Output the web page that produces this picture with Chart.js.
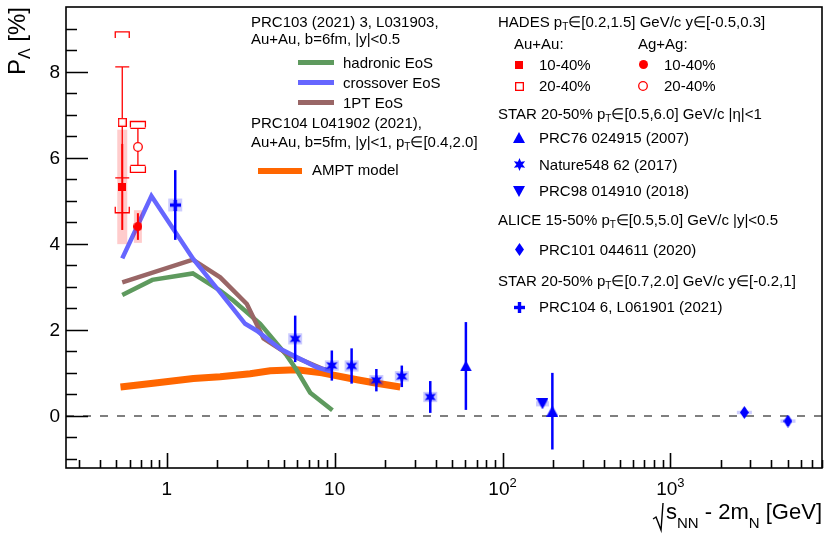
<!DOCTYPE html>
<html>
<head>
<meta charset="utf-8">
<script src="https://cdn.jsdelivr.net/npm/chart.js@4.4.1/dist/chart.umd.min.js"></script>
<style>
  html, body { margin: 0; padding: 0; background: #fff; }
  canvas { display: block; }
</style>
</head>
<body>
<canvas id="polar-chart" width="830" height="538"></canvas>
<script>
// x: sqrt(sNN) - 2mN [GeV], y: P_Lambda [%]

// HADES
const auAu1040X = [0.543], auAu1040Y = [5.32], auAu1040Stat = [1.0], auAu1040Sys = [1.33];
const auAu2040X = [0.543], auAu2040Y = [6.82], auAu2040Stat = [1.29], auAu2040Sys = [2.1];
const agAg1040X = [0.673], agAg1040Y = [4.40], agAg1040Stat = [0.31], agAg1040Sys = [0.38];
const agAg2040X = [0.673], agAg2040Y = [6.25], agAg2040Stat = [0.43], agAg2040Sys = [0.59];

// STAR 20-50%
const prc76X = [60.5, 198.1], prc76Y = [1.16, 0.11], prc76Stat = [1.02, 0.89];
const natureX = [5.82, 9.62, 12.62, 17.72, 25.12, 37.12];
const natureY = [1.79, 1.17, 1.16, 0.83, 0.92, 0.44];
const natureStat = [0.54, 0.35, 0.41, 0.26, 0.25, 0.37];
const natureSys = [0.13, 0.12, 0.13, 0.12, 0.12, 0.12];
const prc98X = [173], prc98Y = [0.28], prc98Stat = [0.04], prc98Sys = [0.06];

// ALICE
const aliceX = [2758, 5018], aliceY = [0.08, -0.12], aliceStat = [0.10, 0.11], aliceSys = [0.04, 0.04];

// STAR 3 GeV
const star3X = [1.123], star3Y = [4.90], star3Stat = [0.81], star3Sys = [0.15];

// models
const hadronicX = [0.543, 0.82, 1.43, 2.08, 2.49, 3.6, 5.19, 5.95, 7.15, 9.7];
const hadronicY = [2.81, 3.16, 3.31, 2.91, 2.68, 2.14, 1.40, 1.06, 0.54, 0.13];
const crossoverX = [0.543, 0.81, 1.44, 2.08, 2.93, 3.44, 4.73, 7.83, 9.62];
const crossoverY = [3.66, 5.11, 3.64, 2.87, 2.14, 1.98, 1.56, 1.13, 1.03];
const onePtX = [0.543, 1.43, 2.08, 3.0, 3.77, 5.19, 8.4, 9.62];
const onePtY = [3.10, 3.63, 3.22, 2.60, 1.80, 1.45, 1.10, 1.04];
const amptX = [0.53, 0.83, 1.44, 2.08, 3.14, 4.13, 5.95, 8.4, 13.6, 17.8, 24.6];
const amptY = [0.67, 0.76, 0.87, 0.91, 0.98, 1.05, 1.07, 1.00, 0.84, 0.76, 0.67];

// axis
const xRange = [0.251, 8000];
const yRange = [-1.21, 9.5];
const yTickLabels = [0, 2, 4, 6, 8];
const xTickLabels = [[1, '1', ''], [10, '10', ''], [100, '10', '2'], [1000, '10', '3']];

const FONT = '"Liberation Sans", Arial, sans-serif';
const RED = '#ff0000', BLUE = '#0000ff';

function pts(xs, ys) {
  return xs.map((v, i) => ({ x: v, y: ys[i] }));
}

function marker(kind, color, w, h) {
  const c = document.createElement('canvas');
  c.width = w; c.height = h;
  const g = c.getContext('2d');
  const cx = w / 2, cy = h / 2;
  g.fillStyle = color; g.strokeStyle = color;
  g.beginPath();
  if (kind === 'square') {
    g.fillRect(0, 0, w, h);
  } else if (kind === 'openSquare') {
    g.fillStyle = '#fff'; g.fillRect(0, 0, w, h);
    g.lineWidth = 1.3; g.strokeRect(0.65, 0.65, w - 1.3, h - 1.3);
  } else if (kind === 'circle') {
    g.arc(cx, cy, w / 2, 0, Math.PI * 2); g.fill();
  } else if (kind === 'openCircle') {
    g.arc(cx, cy, w / 2 - 0.7, 0, Math.PI * 2);
    g.fillStyle = '#fff'; g.fill(); g.lineWidth = 1.3; g.stroke();
  } else if (kind === 'triUp') {
    g.moveTo(cx, 0); g.lineTo(w, h); g.lineTo(0, h); g.closePath(); g.fill();
  } else if (kind === 'triDown') {
    g.moveTo(0, 0); g.lineTo(w, 0); g.lineTo(cx, h); g.closePath(); g.fill();
  } else if (kind === 'diamond') {
    g.moveTo(cx, 0); g.lineTo(w, cy); g.lineTo(cx, h); g.lineTo(0, cy); g.closePath(); g.fill();
  } else if (kind === 'plus') {
    g.fillRect(cx - 1.7, 0, 3.4, h); g.fillRect(0, cy - 1.7, w, 3.4);
  } else if (kind === 'star') {
    const n = 6, ro = w / 2, ri = w / 4.2;
    for (let k = 0; k < n * 2; k++) {
      const r = k % 2 ? ri : ro;
      const a = -Math.PI / 2 + k * Math.PI / n;
      const px = cx + r * Math.cos(a), py = cy + r * Math.sin(a);
      k ? g.lineTo(px, py) : g.moveTo(px, py);
    }
    g.closePath(); g.fill();
  }
  return c;
}

const mk = {
  auAu1040: marker('square', RED, 8, 8),
  auAu2040: marker('openSquare', RED, 9, 9),
  agAg1040: marker('circle', RED, 9, 9),
  agAg2040: marker('openCircle', RED, 10, 10),
  prc76: marker('triUp', BLUE, 12, 11),
  nature: marker('star', BLUE, 13, 13),
  prc98: marker('triDown', BLUE, 12, 11),
  alice: marker('diamond', BLUE, 9, 13),
  star3: marker('plus', BLUE, 11, 11)
};

function lineSet(label, xs, ys, color, width, order) {
  return {
    type: 'scatter', label: label, data: pts(xs, ys), showLine: true,
    borderColor: color, borderWidth: width, pointRadius: 0, fill: false,
    tension: 0, order: order, borderJoinStyle: 'miter'
  };
}

function pointSet(label, xs, ys, style, order, err) {
  return Object.assign({
    type: 'scatter', label: label, data: pts(xs, ys),
    pointStyle: style, pointRadius: 6, order: order
  }, err);
}

// rich text: parts = [[text, 'n'|'sub'|'sup'], ...]
function partFont(size, kind) {
  return (kind === 'n' ? size : Math.round(size * 0.68)) + 'px ' + FONT;
}
function richWidth(ctx, parts, size) {
  let w = 0;
  parts.forEach(p => { ctx.font = partFont(size, p[1]); w += ctx.measureText(p[0]).width; });
  return w;
}
function richText(ctx, parts, x, y, size, align, subDy) {
  let cx = x;
  if (align === 'right') cx -= richWidth(ctx, parts, size);
  if (align === 'center') cx -= richWidth(ctx, parts, size) / 2;
  ctx.textAlign = 'left'; ctx.textBaseline = 'alphabetic';
  parts.forEach(p => {
    ctx.font = partFont(size, p[1]);
    let dy = 0;
    if (p[1] === 'sub') dy = size * (subDy || 0.22);
    if (p[1] === 'sup') dy = -size * 0.42;
    ctx.fillText(p[0], cx, y + dy);
    cx += ctx.measureText(p[0]).width;
  });
  return cx;
}

const errorBars = {
  id: 'errorBars',
  beforeDatasetDraw(chart, args) {
    const ds = chart.data.datasets[args.index];
    if (!ds.stat) return;
    const { ctx } = chart;
    const xs = chart.scales.x, ys = chart.scales.y;
    ctx.save();
    ds.data.forEach((p, i) => {
      const px = xs.getPixelForValue(p.x);
      if (ds.sys) {
        const t = ys.getPixelForValue(p.y + ds.sys[i]);
        const b = ys.getPixelForValue(p.y - ds.sys[i]);
        if (ds.sysMode === 'box') {
          ctx.fillStyle = ds.boxColor;
          ctx.fillRect(px - ds.boxW / 2, t, ds.boxW, b - t);
        } else {
          ctx.strokeStyle = ds.barColor; ctx.lineWidth = 1.3;
          const hw = ds.boxW / 2, leg = 6;
          ctx.beginPath();
          ctx.moveTo(px - hw, t + leg); ctx.lineTo(px - hw, t); ctx.lineTo(px + hw, t); ctx.lineTo(px + hw, t + leg);
          ctx.moveTo(px - hw, b - leg); ctx.lineTo(px - hw, b); ctx.lineTo(px + hw, b); ctx.lineTo(px + hw, b - leg);
          ctx.stroke();
        }
      }
      const t = ys.getPixelForValue(p.y + ds.stat[i]);
      const b = ys.getPixelForValue(p.y - ds.stat[i]);
      ctx.strokeStyle = ds.barColor; ctx.lineWidth = ds.barW;
      ctx.beginPath();
      ctx.moveTo(px, t); ctx.lineTo(px, b);
      if (ds.cap) {
        ctx.moveTo(px - ds.cap, t); ctx.lineTo(px + ds.cap, t);
        ctx.moveTo(px - ds.cap, b); ctx.lineTo(px + ds.cap, b);
      }
      ctx.stroke();
    });
    ctx.restore();
  }
};

const rootFrame = {
  id: 'rootFrame',
  afterDraw(chart) {
    const { ctx, chartArea: a } = chart;
    const xs = chart.scales.x, ys = chart.scales.y;
    ctx.save();
    ctx.strokeStyle = '#000'; ctx.fillStyle = '#000'; ctx.lineWidth = 1.6;
    ctx.strokeRect(a.left, a.top, a.right - a.left, a.bottom - a.top);

    // y ticks
    ctx.beginPath();
    for (let v = -1; v <= 9.01; v += 0.5) {
      const py = Math.round(ys.getPixelForValue(v)) + 0.5;
      const len = (Math.abs(v % 2) < 1e-6) ? 22 : 11;
      ctx.moveTo(a.left, py); ctx.lineTo(a.left + len, py);
    }
    // x ticks
    [0.1, 1, 10, 100, 1000].forEach(d => {
      for (let m = 1; m <= 9; m++) {
        const v = m * d;
        if (v < xRange[0] || v > xRange[1]) continue;
        const px = Math.round(xs.getPixelForValue(v)) + 0.5;
        const len = m === 1 ? 15 : 8;
        ctx.moveTo(px, a.bottom); ctx.lineTo(px, a.bottom - len);
      }
    });
    ctx.stroke();

    // tick labels
    ctx.font = '19px ' + FONT; ctx.textAlign = 'right'; ctx.textBaseline = 'middle';
    yTickLabels.forEach(v => ctx.fillText(String(v), 60, ys.getPixelForValue(v) + 1));
    xTickLabels.forEach(t => {
      const parts = t[2] ? [[t[1], 'n'], [t[2], 'sup']] : [[t[1], 'n']];
      richText(ctx, parts, xs.getPixelForValue(t[0]), 495, 19, 'center');
    });

    // y title
    ctx.save();
    ctx.translate(25, 7); ctx.rotate(-Math.PI / 2);
    const yt = [['P', 'n'], ['\u039B', 'sub'], [' [%]', 'n']];
    richText(ctx, yt, 0, 0, 24, 'right');
    ctx.restore();

    // x title with radical sign
    const xt = [['s', 'n'], ['NN', 'sub'], [' - 2m', 'n'], ['N', 'sub'], [' [GeV]', 'n']];
    const w = richWidth(ctx, xt, 22);
    const x0 = 822 - w;
    richText(ctx, xt, x0, 519, 22, 'left', 0.42);
    ctx.lineWidth = 1.4;
    ctx.beginPath();
    ctx.moveTo(x0 - 13, 519); ctx.lineTo(x0 - 10, 517); ctx.lineTo(x0 - 5, 530); ctx.lineTo(x0 - 3, 503);
    ctx.stroke();

    // left legend (models)
    const L = 15;
    ctx.fillStyle = '#000';
    richText(ctx, [['PRC103 (2021) 3, L031903,', 'n']], 251, 27, L);
    richText(ctx, [['Au+Au, b=6fm, |y|<0.5', 'n']], 251, 44, L);
    [['hadronic EoS', '#5e9a5e', 68], ['crossover EoS', '#6666ff', 88], ['1PT EoS', '#996666', 108]].forEach(e => {
      ctx.strokeStyle = e[1]; ctx.lineWidth = 5;
      ctx.beginPath(); ctx.moveTo(298, e[2] - 5.5); ctx.lineTo(334, e[2] - 5.5); ctx.stroke();
      richText(ctx, [[e[0], 'n']], 343, e[2], L);
    });
    richText(ctx, [['PRC104 L041902 (2021),', 'n']], 251, 128, L);
    richText(ctx, [['Au+Au, b=5fm, |y|<1, p', 'n'], ['T', 'sub'], ['\u2208[0.4,2.0]', 'n']], 251, 147, L);
    ctx.strokeStyle = '#ff6600'; ctx.lineWidth = 6;
    ctx.beginPath(); ctx.moveTo(258, 171); ctx.lineTo(302, 171); ctx.stroke();
    richText(ctx, [['AMPT model', 'n']], 312, 175, L);

    // right legend (data)
    const lx = 498, mx = 519, tx = 539;
    richText(ctx, [['HADES p', 'n'], ['T', 'sub'], ['\u2208[0.2,1.5] GeV/c y\u2208[-0.5,0.3]', 'n']], lx, 27, L);
    richText(ctx, [['Au+Au:', 'n']], 514, 49, L);
    richText(ctx, [['Ag+Ag:', 'n']], 638, 49, L);
    const drawMk = (c, x, y) => ctx.drawImage(c, Math.round(x - c.width / 2), Math.round(y - c.height / 2));
    drawMk(mk.auAu1040, mx, 64.5); richText(ctx, [['10-40%', 'n']], tx, 69.5, L);
    drawMk(mk.auAu2040, mx, 86); richText(ctx, [['20-40%', 'n']], tx, 91, L);
    drawMk(mk.agAg1040, 643, 64.5); richText(ctx, [['10-40%', 'n']], 664, 69.5, L);
    drawMk(mk.agAg2040, 643, 86); richText(ctx, [['20-40%', 'n']], 664, 91, L);
    richText(ctx, [['STAR 20-50% p', 'n'], ['T', 'sub'], ['\u2208[0.5,6.0] GeV/c |\u03B7|<1', 'n']], lx, 118.5, L);
    drawMk(mk.prc76, mx, 137.5); richText(ctx, [['PRC76 024915 (2007)', 'n']], tx, 143, L);
    drawMk(mk.nature, mx, 164); richText(ctx, [['Nature548 62 (2017)', 'n']], tx, 169.5, L);
    drawMk(mk.prc98, mx, 191); richText(ctx, [['PRC98 014910 (2018)', 'n']], tx, 196, L);
    richText(ctx, [['ALICE 15-50% p', 'n'], ['T', 'sub'], ['\u2208[0.5,5.0] GeV/c |y|<0.5', 'n']], lx, 225, L);
    drawMk(mk.alice, mx, 249.5); richText(ctx, [['PRC101 044611 (2020)', 'n']], tx, 254.5, L);
    richText(ctx, [['STAR 20-50% p', 'n'], ['T', 'sub'], ['\u2208[0.7,2.0] GeV/c y\u2208[-0.2,1]', 'n']], lx, 286, L);
    drawMk(mk.star3, mx, 307); richText(ctx, [['PRC104 6, L061901 (2021)', 'n']], tx, 312, L);
    ctx.restore();
  }
};

const PINK = 'rgba(255,0,0,0.2)', LBLUE = 'rgba(0,0,255,0.2)';

new Chart(document.getElementById('polar-chart'), {
  type: 'scatter',
  data: {
    datasets: [
      pointSet('HADES Au+Au 10-40%', auAu1040X, auAu1040Y, mk.auAu1040, 4,
        { stat: auAu1040Stat, sys: auAu1040Sys, sysMode: 'box', boxW: 10, boxColor: PINK, barColor: RED, barW: 2 }),
      pointSet('HADES Au+Au 20-40%', auAu2040X, auAu2040Y, mk.auAu2040, 3,
        { stat: auAu2040Stat, sys: auAu2040Sys, sysMode: 'bracket', boxW: 14, barColor: RED, barW: 1.3, cap: 7 }),
      pointSet('HADES Ag+Ag 10-40%', agAg1040X, agAg1040Y, mk.agAg1040, 4,
        { stat: agAg1040Stat, sys: agAg1040Sys, sysMode: 'box', boxW: 8, boxColor: PINK, barColor: RED, barW: 2 }),
      pointSet('HADES Ag+Ag 20-40%', agAg2040X, agAg2040Y, mk.agAg2040, 3,
        { stat: agAg2040Stat, sys: agAg2040Sys, sysMode: 'bracket', boxW: 15, barColor: RED, barW: 1.3, cap: 7.5 }),
      pointSet('PRC76 024915 (2007)', prc76X, prc76Y, mk.prc76, 1,
        { stat: prc76Stat, barColor: BLUE, barW: 2.5 }),
      pointSet('Nature548 62 (2017)', natureX, natureY, mk.nature, 1,
        { stat: natureStat, sys: natureSys, sysMode: 'box', boxW: 14, boxColor: LBLUE, barColor: BLUE, barW: 2.5 }),
      pointSet('PRC98 014910 (2018)', prc98X, prc98Y, mk.prc98, 2,
        { stat: prc98Stat, sys: prc98Sys, sysMode: 'box', boxW: 13, boxColor: LBLUE, barColor: BLUE, barW: 2.5 }),
      pointSet('PRC101 044611 (2020)', aliceX, aliceY, mk.alice, 1,
        { stat: aliceStat, sys: aliceSys, sysMode: 'box', boxW: 15, boxColor: LBLUE, barColor: BLUE, barW: 2.5 }),
      pointSet('PRC104 6, L061901 (2021)', star3X, star3Y, mk.star3, 1,
        { stat: star3Stat, sys: star3Sys, sysMode: 'box', boxW: 14, boxColor: LBLUE, barColor: BLUE, barW: 2.5 }),
      lineSet('crossover EoS', crossoverX, crossoverY, '#6666ff', 4.5, 12),
      lineSet('1PT EoS', onePtX, onePtY, '#996666', 4.5, 13),
      lineSet('hadronic EoS', hadronicX, hadronicY, '#5e9a5e', 4.5, 14),
      lineSet('AMPT model', amptX, amptY, '#ff6600', 7, 15),
      Object.assign(lineSet('zero', xRange, [0, 0], '#555555', 1.5, 20), { borderDash: [8, 9] })
    ]
  },
  options: {
    responsive: false,
    animation: false,
    layout: { padding: { left: 66, top: 5, right: 8, bottom: 70 } },
    scales: {
      x: { type: 'logarithmic', min: xRange[0], max: xRange[1], display: false },
      y: { type: 'linear', min: yRange[0], max: yRange[1], display: false }
    },
    plugins: {
      legend: { display: false },
      tooltip: { enabled: false }
    }
  },
  plugins: [errorBars, rootFrame]
});
</script>
</body>
</html>
